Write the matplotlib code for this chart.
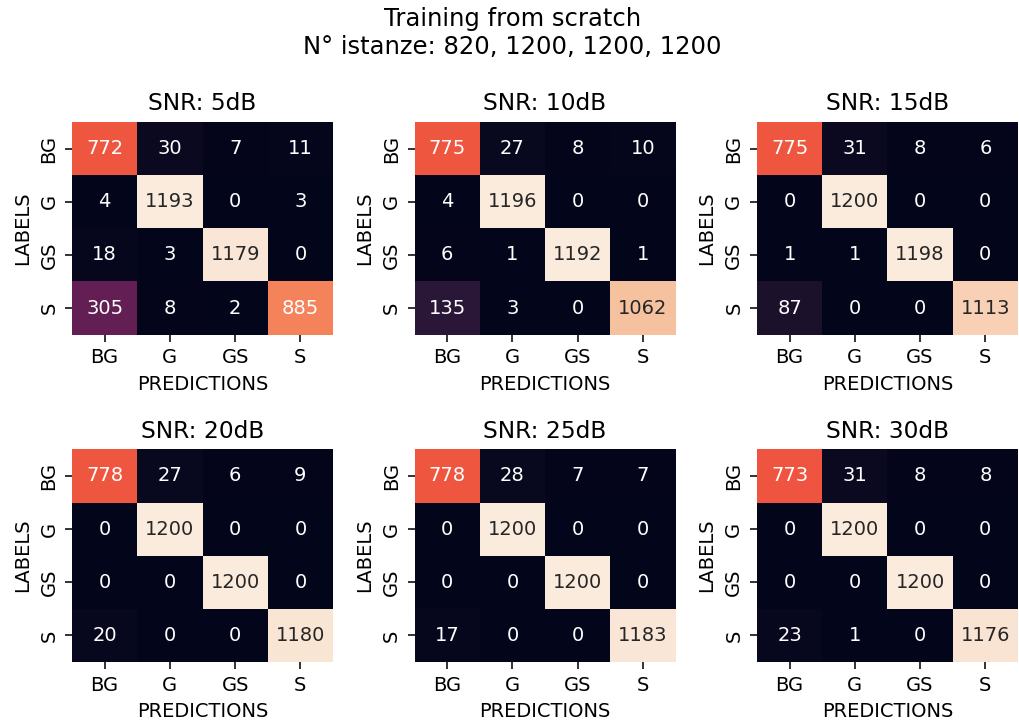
import numpy as np
import matplotlib
matplotlib.use("Agg")
import matplotlib.pyplot as plt
import seaborn as sns

classes = ["BG", "G", "GS", "S"]
snr_titles = ["SNR: 5dB", "SNR: 10dB", "SNR: 15dB", "SNR: 20dB", "SNR: 25dB", "SNR: 30dB"]

cm_5 = [[772, 30, 7, 11], [4, 1193, 0, 3], [18, 3, 1179, 0], [305, 8, 2, 885]]
cm_10 = [[775, 27, 8, 10], [4, 1196, 0, 0], [6, 1, 1192, 1], [135, 3, 0, 1062]]
cm_15 = [[775, 31, 8, 6], [0, 1200, 0, 0], [1, 1, 1198, 0], [87, 0, 0, 1113]]
cm_20 = [[778, 27, 6, 9], [0, 1200, 0, 0], [0, 0, 1200, 0], [20, 0, 0, 1180]]
cm_25 = [[778, 28, 7, 7], [0, 1200, 0, 0], [0, 0, 1200, 0], [17, 0, 0, 1183]]
cm_30 = [[773, 31, 8, 8], [0, 1200, 0, 0], [0, 0, 1200, 0], [23, 1, 0, 1176]]
matrices = [cm_5, cm_10, cm_15, cm_20, cm_25, cm_30]

DPI = 140
fig, axes = plt.subplots(2, 3, figsize=(1019 / DPI, 728 / DPI), dpi=DPI)
fig.subplots_adjust(left=0.0707, right=0.999, top=0.8324, bottom=0.0907,
                    wspace=0.312, hspace=0.54)
fig.suptitle("Training from scratch\nN° istanze: 820, 1200, 1200, 1200", fontsize=12.5,
             x=0.503, y=0.99)

for ax, cm, title in zip(axes.flat, matrices, snr_titles):
    sns.heatmap(np.array(cm), annot=True, fmt="d", cbar=False, ax=ax,
                xticklabels=classes, yticklabels=classes,
                annot_kws={"fontsize": 10})
    ax.set_title(title, fontsize=12)
    ax.set_xlabel("PREDICTIONS")
    ax.set_ylabel("LABELS")

fig.savefig("out.png", dpi=DPI)
